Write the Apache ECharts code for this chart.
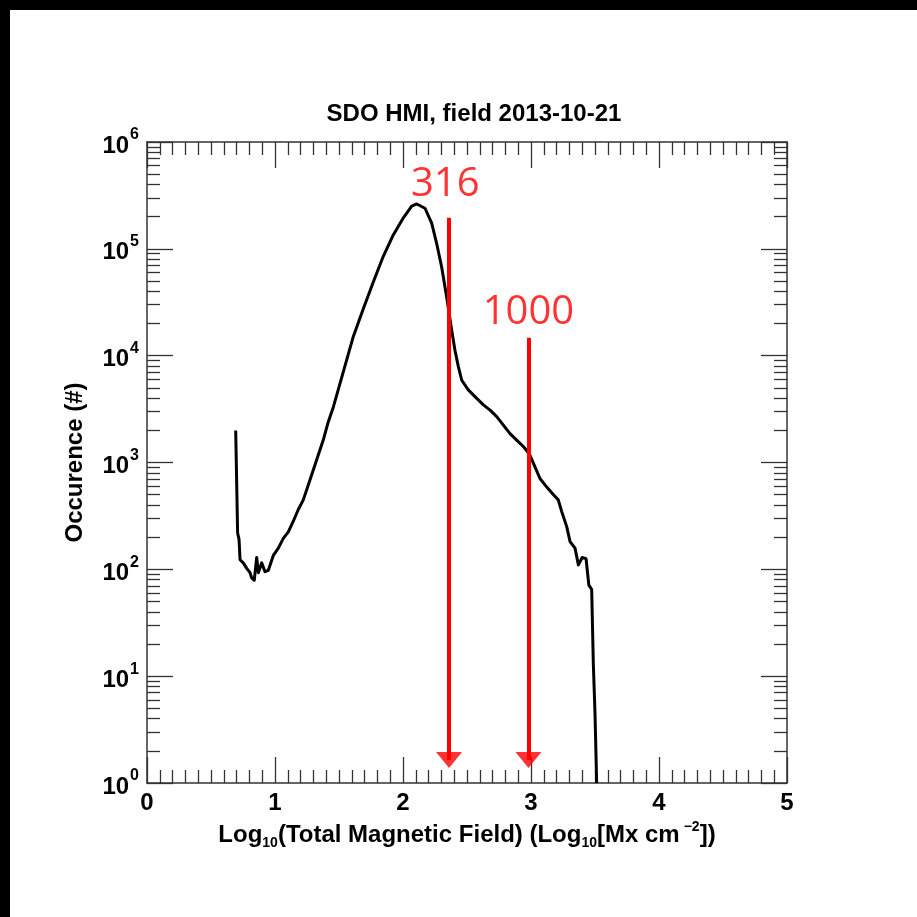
<!DOCTYPE html>
<html>
<head>
<meta charset="utf-8">
<script src="https://cdn.jsdelivr.net/npm/echarts@6/dist/echarts.min.js"></script>
<style>
html,body{margin:0;padding:0;background:#fff;}
#chart{width:917px;height:917px;}
</style>
</head>
<body>
<div id="chart"></div>
<script>
// ---- data ----
const titleText = 'SDO HMI, field 2013-10-21';
const logField = [0.693,0.708,0.719,0.727,0.752,0.779,0.805,0.818,0.838,0.857,0.870,0.896,0.922,0.948,0.987,
  1.026,1.065,1.104,1.143,1.182,1.221,1.260,1.299,1.338,1.377,1.416,1.456,1.534,1.612,1.690,1.768,1.846,1.924,
  2.003,2.068,2.107,2.172,2.224,2.263,2.302,2.341,2.380,2.406,2.432,2.459,2.510,2.576,2.628,2.680,2.732,2.784,
  2.836,2.888,2.940,2.987,3.031,3.070,3.123,3.174,3.213,3.240,3.279,3.305,3.344,3.370,3.400,3.430,3.452,3.474,
  3.487,3.500,3.513];
const counts = [1995,219,191,123,115,102,93,83,79,129,93,115,95,98,135,
  158,195,224,282,363,447,617,851,1175,1622,2399,3311,7079,15136,27542,48978,85114,134896,
  194984,251189,263027,239883,173780,112202,67608,35481,17378,11220,7943,5888,4786,3981,3467,3090,2692,2239,
  1862,1622,1413,1202,912,708,589,501,447,347,251,182,158,110,129,126,71,65,
  13,4.5,1];
const xTicks = [0,1,2,3,4,5];
const yMajorTicks = [1,10,100,1000,10000,100000,1000000];
const yTickExponents = ['0','1','2','3','4','5','6'];
const arrowX = [2.36, 2.98];
const arrowTop = [195000, 14700];
const arrowBottom = 1.64;
const markerText = ['316','1000'];
const markerX = [2.33, 2.98];
const markerY = [398000, 25100];

// the y axis is drawn in log10 space (decades), values are converted here
const lg = v => Math.log10(v);
const yMajorPos = yMajorTicks.map(lg);
const yMinorPos = [];
for (let d = 0; d < yMajorTicks.length - 1; d++) {
  for (let k = 2; k <= 9; k++) yMinorPos.push(lg(k * yMajorTicks[d]));
}

const FONT = 'Liberation Sans';
const AX = '#333';

const curve = logField.map((x, i) => [x, lg(counts[i])]);

function xAxisDef(pos, showLabel) {
  return {
    type: 'value', position: pos, min: 0, max: 5, interval: 1,
    axisLine: {show: true, onZero: false, lineStyle: {color: AX, width: 1.5}},
    axisTick: {show: true, inside: true, length: 26, lineStyle: {color: AX, width: 1.3}},
    minorTick: {show: true, splitNumber: 10, length: 13, lineStyle: {color: AX, width: 1.3}},
    splitLine: {show: false}, minorSplitLine: {show: false},
    axisLabel: {show: showLabel, margin: 8, fontFamily: FONT, fontWeight: 'bold', fontSize: 24, color: '#000',
      customValues: xTicks},
    name: showLabel ? '{n|Log}{sub|10}{n|(Total Magnetic Field) (Log}{sub|10}{n|[Mx cm}{sup|−2}{n|])}' : '',
    nameLocation: 'middle', nameGap: 36,
    nameTextStyle: {
      rich: {
        n: {fontFamily: FONT, fontWeight: 'bold', fontSize: 24, color: '#000', lineHeight: 30},
        sub: {fontFamily: FONT, fontWeight: 'bold', fontSize: 14, color: '#000', verticalAlign: 'bottom', lineHeight: 30, padding: [12, 0, 0, 0]},
        sup: {fontFamily: FONT, fontWeight: 'bold', fontSize: 14, color: '#000', verticalAlign: 'top', lineHeight: 30, padding: [0, 0, 10, 4]}
      }
    }
  };
}

function yAxisDef(pos, major, showLabel) {
  return {
    type: 'value', position: pos, offset: 0, min: 0, max: 6, interval: 1,
    axisLine: {show: major, onZero: false, lineStyle: {color: AX, width: 1.5}},
    axisTick: {show: true, inside: true, length: major ? 26 : 13, lineStyle: {color: AX, width: 1.3},
      customValues: major ? yMajorPos : yMinorPos},
    splitLine: {show: false},
    axisLabel: {
      show: showLabel, margin: 8, customValues: yMajorPos,
      formatter: function (v) {
        const i = yMajorPos.findIndex(p => Math.abs(p - v) < 1e-6);
        const e = i >= 0 ? yTickExponents[i] : String(Math.round(v));
        return '{b|10}{s|' + e + '}';
      },
      rich: {
        b: {fontFamily: FONT, fontWeight: 'bold', fontSize: 24, color: '#000', lineHeight: 30, padding: [8, 0, 0, 0]},
        s: {fontFamily: FONT, fontWeight: 'bold', fontSize: 16, color: '#000', verticalAlign: 'top', lineHeight: 30, padding: [0, 0, 0, 1]}
      }
    },
    name: showLabel ? 'Occurence (#)' : '',
    nameLocation: 'middle', nameGap: 60, nameRotate: 90,
    nameTextStyle: {fontFamily: FONT, fontWeight: 'bold', fontSize: 24, color: '#000'}
  };
}

const chart = echarts.init(document.getElementById('chart'), null, {renderer: 'canvas'});
chart.setOption({
  backgroundColor: '#fff',
  animation: false,
  title: {
    text: titleText, left: 469, top: 97, textAlign: 'center',
    textStyle: {fontFamily: FONT, fontWeight: 'bold', fontSize: 24, color: '#000'}
  },
  graphic: [
    {type: 'rect', left: 0, top: 0, z: 100, shape: {width: 917, height: 10}, style: {fill: '#000'}},
    {type: 'rect', left: 0, top: 0, z: 100, shape: {width: 10, height: 917}, style: {fill: '#000'}}
  ],
  grid: {left: 147, right: 130, top: 142, bottom: 134, containLabel: false},
  xAxis: [xAxisDef('bottom', true), xAxisDef('top', false)],
  yAxis: [yAxisDef('left', true, true), yAxisDef('left', false, false), yAxisDef('right', true, false), yAxisDef('right', false, false)],
  series: [
    {
      type: 'line', name: 'field', xAxisIndex: 0, yAxisIndex: 0, data: curve,
      showSymbol: false, symbol: 'none', smooth: false, clip: true,
      lineStyle: {color: '#000', width: 3, join: 'round'}, z: 3
    },
    {
      type: 'lines', name: 'arrows', coordinateSystem: 'cartesian2d', xAxisIndex: 0, yAxisIndex: 0,
      silent: true, z: 4,
      lineStyle: {color: '#ff0000', width: 4, opacity: 1},
      data: arrowX.map((x, i) => ({coords: [[x, lg(arrowTop[i])], [x, lg(arrowBottom)]]}))
    },
    {
      type: 'scatter', name: 'arrowHeads', xAxisIndex: 0, yAxisIndex: 0, silent: true, z: 5,
      symbol: 'triangle', symbolRotate: 180, symbolSize: [26, 16],
      itemStyle: {color: '#ff0000'},
      data: arrowX.map(x => [x, lg(arrowBottom)])
    },
    {
      type: 'scatter', name: 'markers', xAxisIndex: 0, yAxisIndex: 0, silent: true,
      symbolSize: 0, z: 6,
      data: markerX.map((x, i) => ({value: [x, lg(markerY[i])], name: markerText[i]})),
      label: {show: true, position: 'inside', formatter: p => p.name,
        fontFamily: 'Open Sans', fontSize: 40, color: '#ff0000'}
    }
  ]
});
</script>
</body>
</html>
